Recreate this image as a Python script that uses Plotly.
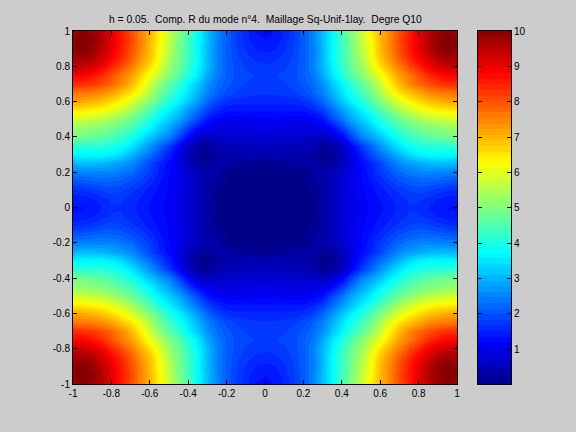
import numpy as np
import plotly.graph_objects as go

TITLE = "h = 0.05.  Comp. R du mode n°4.  Maillage Sq-Unif-1lay.  Degre Q10"
XTICKS = [-1, -0.8, -0.6, -0.4, -0.2, 0, 0.2, 0.4, 0.6, 0.8, 1]
XTICK_LABELS = ["-1", "-0.8", "-0.6", "-0.4", "-0.2", "0", "0.2", "0.4", "0.6", "0.8", "1"]
CBAR_TICKS = [1, 2, 3, 4, 5, 6, 7, 8, 9, 10]

# Field magnitude on one quadrant of the square; each row holds x = 0, 0.05, ..., 1.
QUADRANT_COORDS = [0.0, 0.05, 0.1, 0.15, 0.2, 0.25, 0.3, 0.35, 0.4, 0.45, 0.5,
                   0.55, 0.6, 0.65, 0.7, 0.75, 0.8, 0.85, 0.9, 0.95, 1.0]
Q_Y000 = [.08, .08, .09, .10, .11, .15, .36, .57, .84, 1.03, 1.18, 1.28, 1.38, 1.50, 1.62, 1.72, 1.70, 1.58, 1.45, 1.40, 1.40]
Q_Y005 = [.08, .08, .09, .10, .11, .16, .38, .57, .85, 1.04, 1.20, 1.32, 1.42, 1.54, 1.65, 1.75, 1.75, 1.65, 1.55, 1.48, 1.45]
Q_Y010 = [.09, .09, .10, .11, .12, .20, .40, .57, .86, 1.05, 1.22, 1.36, 1.50, 1.65, 1.78, 1.90, 1.95, 1.90, 1.80, 1.72, 1.68]
Q_Y015 = [.10, .10, .11, .12, .15, .30, .40, .57, .86, 1.06, 1.24, 1.44, 1.64, 1.85, 2.00, 2.15, 2.20, 2.20, 2.15, 2.10, 2.05]
Q_Y020 = [.14, .14, .15, .16, .17, .34, .42, .58, .80, 1.04, 1.27, 1.53, 1.80, 2.05, 2.30, 2.45, 2.55, 2.60, 2.60, 2.55, 2.50]
Q_Y025 = [.17, .20, .25, .30, .36, .38, .28, .35, .60, .95, 1.30, 1.60, 1.95, 2.30, 2.60, 2.80, 2.95, 3.05, 3.10, 3.10, 3.05]
Q_Y030 = [.50, .50, .48, .45, .42, .30, .14, .20, .55, 1.00, 1.50, 1.95, 2.30, 2.70, 3.05, 3.40, 3.60, 3.70, 3.72, 3.70, 3.65]
Q_Y035 = [.62, .62, .60, .58, .55, .50, .25, .32, .70, 1.20, 1.80, 2.25, 2.70, 3.15, 3.50, 3.85, 4.00, 4.10, 4.15, 4.15, 4.15]
Q_Y040 = [.82, .81, .80, .78, .76, .70, .60, .80, 1.20, 1.90, 2.50, 2.85, 3.20, 3.60, 4.00, 4.25, 4.50, 4.65, 4.75, 4.85, 4.90]
Q_Y045 = [1.02, 1.00, .97, .95, .95, 1.00, 1.10, 1.30, 1.85, 2.40, 2.90, 3.25, 3.70, 4.05, 4.40, 4.65, 4.85, 5.00, 5.10, 5.20, 5.25]
Q_Y050 = [1.22, 1.20, 1.17, 1.14, 1.13, 1.18, 1.42, 1.95, 2.42, 2.90, 3.25, 3.65, 4.05, 4.45, 4.80, 5.10, 5.35, 5.55, 5.65, 5.75, 5.85]
Q_Y055 = [1.42, 1.42, 1.42, 1.42, 1.45, 1.58, 1.88, 2.30, 2.75, 3.20, 3.60, 4.05, 4.50, 4.95, 5.40, 5.75, 6.05, 6.20, 6.35, 6.40, 6.45]
Q_Y060 = [1.60, 1.60, 1.60, 1.62, 1.68, 1.85, 2.25, 2.70, 3.20, 3.60, 4.05, 4.50, 5.00, 5.45, 5.85, 6.25, 6.55, 6.80, 6.95, 7.05, 7.10]
Q_Y065 = [1.75, 1.75, 1.78, 1.85, 1.98, 2.20, 2.55, 3.00, 3.50, 3.95, 4.40, 4.85, 5.40, 6.05, 6.50, 6.80, 7.10, 7.35, 7.50, 7.55, 7.60]
Q_Y070 = [1.85, 1.85, 1.87, 1.95, 2.08, 2.30, 2.70, 3.20, 3.68, 4.15, 4.60, 5.15, 5.75, 6.40, 6.95, 7.40, 7.75, 8.00, 8.20, 8.30, 8.30]
Q_Y075 = [1.88, 1.88, 1.92, 2.00, 2.15, 2.45, 2.95, 3.55, 4.10, 4.60, 5.10, 5.60, 6.10, 6.70, 7.20, 7.60, 8.00, 8.35, 8.60, 8.80, 8.80]
Q_Y080 = [1.75, 1.78, 1.85, 1.98, 2.15, 2.55, 3.10, 3.68, 4.25, 4.75, 5.25, 5.95, 6.55, 7.10, 7.55, 8.05, 8.45, 8.85, 9.15, 9.30, 9.30]
Q_Y085 = [1.65, 1.68, 1.78, 1.93, 2.15, 2.50, 3.10, 3.75, 4.35, 4.90, 5.40, 6.20, 6.85, 7.35, 7.90, 8.40, 8.80, 9.20, 9.55, 9.70, 9.60]
Q_Y090 = [1.52, 1.57, 1.70, 1.90, 2.15, 2.50, 3.10, 3.70, 4.35, 4.90, 5.55, 6.25, 6.90, 7.45, 8.00, 8.50, 8.95, 9.40, 9.75, 9.95, 9.80]
Q_Y095 = [1.42, 1.48, 1.65, 1.88, 2.15, 2.55, 3.15, 3.75, 4.40, 4.95, 5.60, 6.30, 6.95, 7.50, 8.05, 8.55, 9.05, 9.50, 9.85, 10.0, 9.85]
Q_Y100 = [1.35, 1.42, 1.60, 1.85, 2.15, 2.55, 3.15, 3.75, 4.45, 5.05, 5.70, 6.40, 6.95, 7.50, 8.00, 8.50, 9.00, 9.40, 9.70, 9.90, 9.70]

Z_MIN, Z_MAX = 0.01, 10.0


def jet_colorscale(n=64):
    """Stepped jet colorscale with n flat bands."""
    scale = []
    for i in range(n):
        t = (i + 0.5) / n
        r = np.clip(min(4 * t - 1.5, 4.5 - 4 * t), 0, 1)
        g = np.clip(min(4 * t - 0.5, 3.5 - 4 * t), 0, 1)
        b = np.clip(min(4 * t + 0.5, 2.5 - 4 * t), 0, 1)
        c = f"rgb({int(round(r * 255))},{int(round(g * 255))},{int(round(b * 255))})"
        scale += [[i / n, c], [(i + 1) / n, c]]
    return scale


# The field is symmetric, so the full square is mirrored from the quadrant.
quadrant = np.array([Q_Y000, Q_Y005, Q_Y010, Q_Y015, Q_Y020, Q_Y025, Q_Y030, Q_Y035, Q_Y040, Q_Y045, Q_Y050,
                     Q_Y055, Q_Y060, Q_Y065, Q_Y070, Q_Y075, Q_Y080, Q_Y085, Q_Y090, Q_Y095, Q_Y100])
right = np.hstack([quadrant[:, :0:-1], quadrant])
field = np.vstack([right[:0:-1], right])
coords = [-c for c in QUADRANT_COORDS[:0:-1]] + QUADRANT_COORDS

cbar_levels = np.linspace(Z_MIN, Z_MAX, 64)
JET = jet_colorscale()
W, H = 576, 432
BG = "#cccccc"
FONT = dict(family="Liberation Sans, Helvetica, Arial, sans-serif", size=10, color="black")

fig = go.Figure()
fig.add_trace(go.Heatmap(x=coords, y=coords, z=field, zsmooth="best", colorscale=JET,
                         zmin=Z_MIN, zmax=Z_MAX, showscale=False))
fig.add_trace(go.Heatmap(x=[0, 1], y=cbar_levels, z=[[v, v] for v in cbar_levels], colorscale=JET,
                         zmin=Z_MIN, zmax=Z_MAX, showscale=False, xaxis="x2", yaxis="y2"))

axis_style = dict(showgrid=False, zeroline=False, showline=True, linecolor="black", linewidth=1,
                  mirror="ticks", ticks="inside", ticklen=4, tickcolor="black", tickwidth=1,
                  tickfont=FONT, automargin=False)
fig.update_layout(
    width=W, height=H, margin=dict(l=0, r=0, t=0, b=0),
    paper_bgcolor=BG, plot_bgcolor=BG, showlegend=False,
    xaxis=dict(domain=[73 / W, 457 / W], range=[-1, 1], tickvals=XTICKS, ticktext=XTICK_LABELS,
               tickangle=0, **axis_style),
    yaxis=dict(domain=[1 - 384 / H, 1 - 31 / H], range=[-1, 1], tickvals=XTICKS, ticktext=XTICK_LABELS,
               **axis_style),
    xaxis2=dict(domain=[478 / W, 511 / W], range=[0, 1], showticklabels=False, showgrid=False,
                zeroline=False, showline=True, linecolor="black", mirror=True, ticks="", automargin=False),
    yaxis2=dict(domain=[1 - 384 / H, 1 - 31 / H], range=[Z_MIN, Z_MAX], anchor="x2", side="right",
                tickvals=CBAR_TICKS, **axis_style),
    annotations=[dict(text=TITLE, xref="paper", yref="paper", x=265 / W, y=1 - 20 / H,
                      xanchor="center", yanchor="middle", showarrow=False,
                      font=dict(FONT, size=10.3))],
)
fig.write_html("out.html", config=dict(displayModeBar=False))
